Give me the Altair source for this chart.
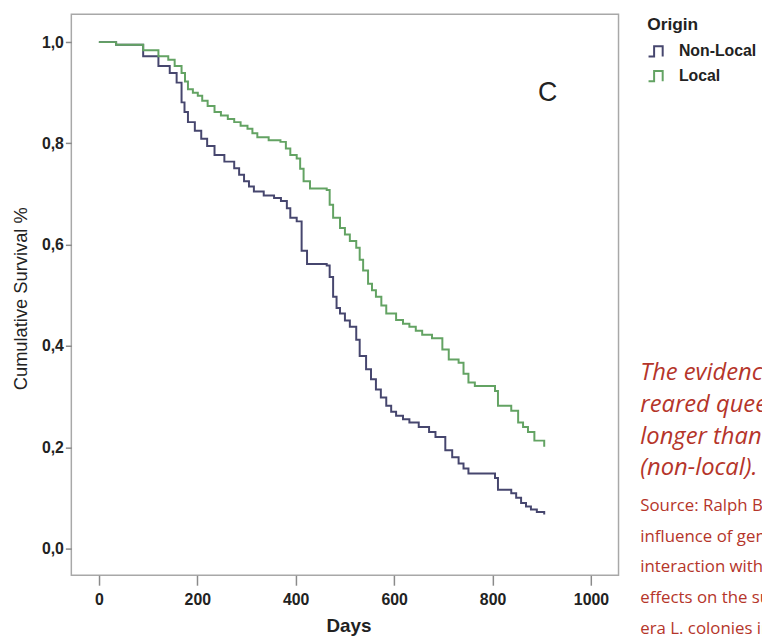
import altair as alt
import pandas as pd

# ---- data ----
origin_labels = ["Non-Local", "Local"]
origin_colors = ["#46466e", "#63a363"]

nonlocal_days = [0, 35, 90, 121, 144, 158, 168, 174, 181, 195, 208, 220, 235, 255, 275, 285,
                 295, 305, 315, 335, 356, 370, 382, 389, 402, 412, 423, 463, 469, 476, 483,
                 490, 500, 510, 523, 530, 543, 553, 563, 573, 584, 594, 604, 618, 631, 650,
                 671, 684, 704, 718, 731, 741, 751, 805, 811, 838, 848, 858, 868, 878, 890, 905]
nonlocal_surv = [1.000, 0.995, 0.972, 0.953, 0.939, 0.920, 0.881, 0.862, 0.842, 0.825, 0.809,
                 0.795, 0.777, 0.764, 0.751, 0.738, 0.725, 0.715, 0.705, 0.697, 0.692, 0.686,
                 0.672, 0.653, 0.646, 0.588, 0.562, 0.559, 0.536, 0.497, 0.475, 0.464, 0.450,
                 0.438, 0.412, 0.380, 0.354, 0.334, 0.314, 0.298, 0.282, 0.270, 0.262, 0.255,
                 0.249, 0.240, 0.230, 0.220, 0.194, 0.180, 0.168, 0.158, 0.148, 0.139, 0.116,
                 0.109, 0.100, 0.090, 0.083, 0.077, 0.072, 0.067]

local_days = [0, 35, 90, 121, 141, 154, 168, 175, 181, 191, 201, 210, 221, 235, 248, 262, 275,
              288, 302, 312, 322, 345, 369, 380, 389, 402, 409, 416, 429, 463, 469, 476, 490,
              500, 510, 523, 530, 537, 547, 555, 563, 574, 584, 604, 618, 631, 644, 657, 677,
              698, 711, 731, 741, 751, 764, 805, 811, 838, 852, 862, 872, 885, 905]
local_surv = [1.000, 0.995, 0.984, 0.972, 0.965, 0.953, 0.939, 0.922, 0.907, 0.900, 0.894,
              0.884, 0.874, 0.862, 0.855, 0.848, 0.842, 0.835, 0.829, 0.820, 0.812, 0.806,
              0.803, 0.790, 0.777, 0.770, 0.750, 0.725, 0.711, 0.708, 0.679, 0.653, 0.633,
              0.620, 0.607, 0.594, 0.570, 0.549, 0.523, 0.510, 0.497, 0.480, 0.464, 0.451,
              0.444, 0.438, 0.430, 0.422, 0.415, 0.393, 0.373, 0.367, 0.345, 0.328, 0.321,
              0.311, 0.282, 0.272, 0.249, 0.240, 0.230, 0.213, 0.201]

x_ticks = [0, 200, 400, 600, 800, 1000]
y_ticks = [0.0, 0.2, 0.4, 0.6, 0.8, 1.0]

panel_letter = ["C"]
panel_letter_day = [912]
panel_letter_surv = [0.90]

caption_lines = ["The evidence shows that locally",
                 "reared queens (local) lived",
                 "longer than imported queens",
                 "(non-local)."]
source_lines = ["Source: Ralph Büchler et al., The",
                "influence of genetic origin and its",
                "interaction with environmental",
                "effects on the survival of Apis mellif-",
                "era L. colonies in Europe"]

# ---- tables ----
df = pd.concat([
    pd.DataFrame({"day": nonlocal_days, "surv": nonlocal_surv, "origin": origin_labels[0]}),
    pd.DataFrame({"day": local_days, "surv": local_surv, "origin": origin_labels[1]}),
], ignore_index=True)
letter_df = pd.DataFrame({"day": panel_letter_day, "surv": panel_letter_surv, "label": panel_letter})

FONT = "Liberation Sans"
x_scale = alt.Scale(domain=[-56, 1056], nice=False, zero=False)
y_scale = alt.Scale(domain=[-0.053, 1.055], nice=False, zero=False)

lines = alt.Chart(df).mark_line(interpolate="step-after", strokeWidth=2).encode(
    x=alt.X("day:Q", scale=x_scale,
            axis=alt.Axis(values=x_ticks, title="Days", format="d",
                          tickSize=10, labelPadding=6, titleX=280, titleY=57,
                          titleBaseline="alphabetic")),
    y=alt.Y("surv:Q", scale=y_scale,
            axis=alt.Axis(values=y_ticks, title="Cumulative Survival %",
                          labelExpr="replace(format(datum.value, '.1f'), '.', ',')",
                          tickSize=6, labelPadding=2, titleX=-41, titleY=287,
                          titleFontWeight="normal", titleFontSize=18.5)),
    color=alt.Color("origin:N",
                    scale=alt.Scale(domain=origin_labels, range=origin_colors),
                    legend=alt.Legend(title="Origin", orient="none", legendX=582, legendY=2,
                                      symbolType="M-1,0.6H-0.35V-0.6H0.65V0.6",
                                      symbolSize=300, symbolStrokeWidth=2,
                                      symbolFillColor="transparent",
                                      labelFont=FONT, labelFontSize=16, labelFontWeight="bold",
                                      labelColor="#222222", labelOffset=12,
                                      titleFont=FONT, titleFontSize=17.5, titleFontWeight="bold",
                                      titleColor="#222222", titlePadding=8, rowPadding=5)),
)

letter = alt.Chart(letter_df).mark_text(font=FONT, fontSize=27, color="#222222",
                                        baseline="middle", align="center").encode(
    x=alt.X("day:Q", scale=x_scale), y=alt.Y("surv:Q", scale=y_scale), text="label:N")

caption = alt.Chart(letter_df).mark_text(font="Open Sans", fontSize=24, fontStyle="italic",
                                         color="#b5352a", align="left", baseline="alphabetic",
                                         lineHeight=32).encode(
    x=alt.value(575), y=alt.value(370), text=alt.value(caption_lines))

source = alt.Chart(letter_df).mark_text(font="Open Sans", fontSize=17,
                                        color="#b5352a", align="left", baseline="alphabetic",
                                        lineHeight=31).encode(
    x=alt.value(575), y=alt.value(502), text=alt.value(source_lines))

chart = alt.layer(lines, letter, caption, source).properties(
    width=553, height=567,
    autosize=alt.AutoSizeParams(type="none"),
    padding={"left": 64, "top": 3, "right": 145, "bottom": 58},
).configure_view(stroke="#a8a8a8", strokeWidth=1.5).configure_axis(
    domain=False, grid=False, tickColor="#8a8a8a", tickWidth=1.5,
    labelFont=FONT, labelFontSize=16, labelFontWeight="bold", labelColor="#222222",
    titleFont=FONT, titleFontSize=19, titleFontWeight="bold", titleColor="#222222",
)

chart.save("out.html", embed_options={"renderer": "svg", "actions": False})
